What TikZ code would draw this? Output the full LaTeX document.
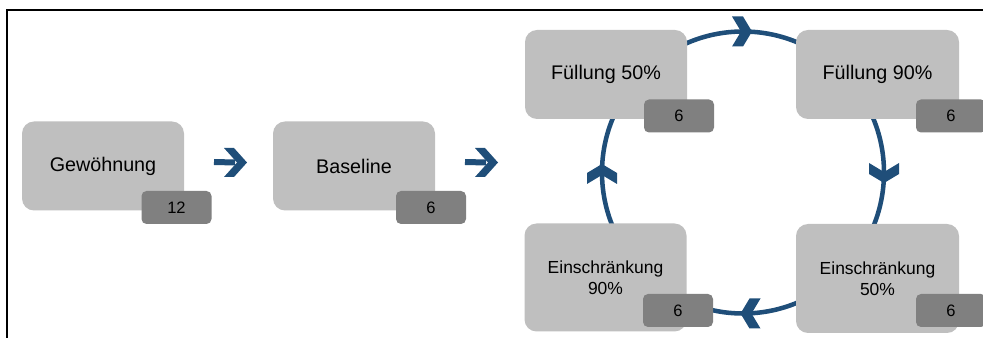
\documentclass[tikz,border=0pt]{standalone}
\usepackage{fontspec}
\setmainfont{Liberation Sans}
\definecolor{boxgray}{HTML}{BFBFBF}
\definecolor{badgegray}{HTML}{808080}
\definecolor{navy}{HTML}{1F4E79}
\begin{document}
\begin{tikzpicture}[x=0.75pt,y=-0.75pt,
  stage/.style={fill=boxgray, rounded corners=9pt, minimum width=121.5pt,
    minimum height=66.75pt, inner sep=0pt, align=center,
    font=\fontsize{14.8}{18}\selectfont},
  stagetall/.style={stage, minimum height=81pt,
    font=\fontsize{13.1}{15.4}\selectfont},
  badge/.style={fill=badgegray, rounded corners=3.75pt, minimum width=52.5pt,
    minimum height=24.75pt, inner sep=0pt, font=\fontsize{12.4}{14}\selectfont},
  chev/.style={fill=navy},
  ring/.style={draw=navy, line width=3.4pt},
  shaft/.style={draw=navy, line width=4.5pt},
  frame/.style={draw=black, line width=1.5pt}
]
\useasboundingbox (0,0) rectangle (983,338);
\clip (0,0) rectangle (983,338);

% frame
\draw[frame] (6.7,345) -- (6.7,10) -- (990,10);

% cycle ring
\coordinate (cc) at (743,172.5);
\draw[ring] (cc) circle [radius=141];

% chevrons on the ring
\newcommand{\chevshape}{(-10,-15) -- (1,-15) -- (10,0) -- (1,15) -- (-10,15) -- (-1,0) -- cycle}
\coordinate (ctop) at (742,31.5);
\coordinate (cright) at (884,173);
\coordinate (cbot) at (750.5,313.5);
\coordinate (cleft) at (602,174);
\fill[chev, shift={(ctop)}] \chevshape;
\fill[chev, shift={(cright)}, rotate=270] \chevshape;
\fill[chev, shift={(cbot)}, rotate=180] \chevshape;
\fill[chev, shift={(cleft)}, rotate=90] \chevshape;

% stage boxes
\node[stage] (gew) at (103,166) {Gewöhnung};
\node[stage] (base) at (354,166) {Baseline};
\node[stage] (f50) at (606,74.5) {Füllung 50\%};
\node[stage, minimum width=122.25pt] (f90) at (877.5,74.5) {Füllung 90\%};
\node[stagetall] (e90) at (605.5,277.5) {Einschränkung\\90\%};
\node[stagetall, minimum width=122.25pt, minimum height=81.75pt] (e50) at (877.5,278.5) {Einschränkung\\50\%};

% badges
\node[badge] (n1) at (176.5,207.5) {12};
\node[badge] (n2) at (431,207.5) {6};
\node[badge] (n3) at (679,116) {6};
\node[badge] (n4) at (951,116) {6};
\node[badge] (n5) at (678,310.5) {6};
\node[badge] (n6) at (951,310.5) {6};

% straight arrows
\newcommand{\bigchev}{(-11,-14.5) -- (-1,-14.5) -- (12,0) -- (-1,14.5) -- (-11,14.5) -- (2,0) -- cycle}
\coordinate (a1s) at (214,162);
\coordinate (a1h) at (235,162.5);
\coordinate (a2s) at (465,162);
\coordinate (a2h) at (486,162.5);
\draw[shaft] (a1s) -- (a1h);
\fill[chev, shift={(a1h)}] \bigchev;
\draw[shaft] (a2s) -- (a2h);
\fill[chev, shift={(a2h)}] \bigchev;
\end{tikzpicture}
\end{document}
